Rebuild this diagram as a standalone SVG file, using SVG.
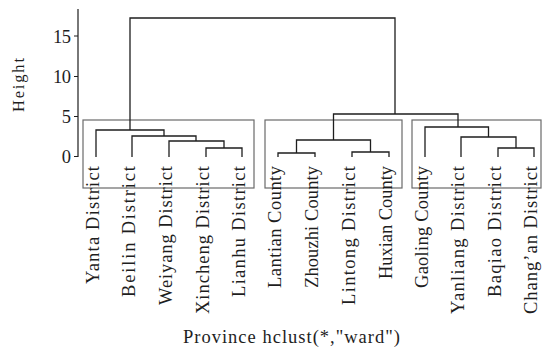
<svg xmlns="http://www.w3.org/2000/svg" width="544" height="351" viewBox="0 0 544 351">
<style>
text{font-family:"Liberation Serif","Times New Roman",serif;fill:#1e1e1e}
.lab{font-size:18.5px;text-anchor:end}
.tick{font-size:18.5px;text-anchor:end}
.tree{fill:none;stroke:#1e1e1e;stroke-width:1.3}
.box{fill:none;stroke:#6a6a6a;stroke-width:1.2}
.ax{fill:none;stroke:#1e1e1e;stroke-width:1.2}
</style>
<rect width="544" height="351" fill="#fff"/>
<g id="axis">
<path class="ax" d="M78,9V157M74,36H78M74,76.5H78M74,116.5H78M74,156.5H78"/>
<text class="tick" x="71" y="42.5" textLength="18" lengthAdjust="spacing">15</text>
<text class="tick" x="71" y="83" textLength="18" lengthAdjust="spacing">10</text>
<text class="tick" x="71" y="123">5</text>
<text class="tick" x="71" y="162.5">0</text>
<text font-size="16.5" text-anchor="middle" transform="translate(23.5,85) rotate(-90)" textLength="54" lengthAdjust="spacing">Height</text>
</g>
<g id="clusters">
<rect id="box1" class="box" x="83" y="120" width="171" height="68"/>
<rect id="box2" class="box" x="265" y="120" width="137" height="68"/>
<rect id="box3" class="box" x="412" y="120" width="129" height="68"/>
</g>
<g id="connectors" class="tree">
<path d="M206,157V148H242V157"/>
<path d="M169,157V141H224V148"/>
<path d="M132,157V136H196V141"/>
<path d="M96,157V130H164V136"/>
<path d="M130,130V18H395V114"/>
<path d="M278,157V153H315V157"/>
<path d="M352,157V152H389V157"/>
<path d="M296.5,153V140H370.5V152"/>
<path d="M333.5,140V114H458V127"/>
<path d="M498,157V148H534V157"/>
<path d="M461,157V137H516V148"/>
<path d="M425,157V127H488.5V137"/>
</g>
<g id="leaf-yanta"><text class="lab" transform="translate(98.5,166) rotate(-90)" textLength="118" lengthAdjust="spacing">Yanta District</text></g>
<g id="leaf-beilin"><text class="lab" transform="translate(134.5,166) rotate(-90)" textLength="131" lengthAdjust="spacing">Beilin District</text></g>
<g id="leaf-weiyang"><text class="lab" transform="translate(171.5,166) rotate(-90)" textLength="139" lengthAdjust="spacing">Weiyang District</text></g>
<g id="leaf-xincheng"><text class="lab" transform="translate(208.5,166) rotate(-90)" textLength="148" lengthAdjust="spacing">Xincheng District</text></g>
<g id="leaf-lianhu"><text class="lab" transform="translate(244.5,166) rotate(-90)" textLength="131" lengthAdjust="spacing">Lianhu District</text></g>
<g id="leaf-lantian"><text class="lab" transform="translate(280.5,166) rotate(-90)" textLength="122" lengthAdjust="spacing">Lantian County</text></g>
<g id="leaf-zhouzhi"><text class="lab" transform="translate(317.5,166) rotate(-90)" textLength="122" lengthAdjust="spacing">Zhouzhi County</text></g>
<g id="leaf-lintong"><text class="lab" transform="translate(354.5,166) rotate(-90)" textLength="139" lengthAdjust="spacing">Lintong District</text></g>
<g id="leaf-huxian"><text class="lab" transform="translate(391.5,166) rotate(-90)" textLength="113" lengthAdjust="spacing">Huxian County</text></g>
<g id="leaf-gaoling"><text class="lab" transform="translate(427.5,166) rotate(-90)" textLength="122" lengthAdjust="spacing">Gaoling County</text></g>
<g id="leaf-yanliang"><text class="lab" transform="translate(463.5,166) rotate(-90)" textLength="148" lengthAdjust="spacing">Yanliang District</text></g>
<g id="leaf-baqiao"><text class="lab" transform="translate(500.5,166) rotate(-90)" textLength="131" lengthAdjust="spacing">Baqiao District</text></g>
<g id="leaf-changan"><text class="lab" transform="translate(536.5,166) rotate(-90)" textLength="148" lengthAdjust="spacing">Chang’an District</text></g>
<g id="title"><text font-size="18.5" x="183" y="343" textLength="217" lengthAdjust="spacing">Province hclust(*,"ward")</text></g>
</svg>
